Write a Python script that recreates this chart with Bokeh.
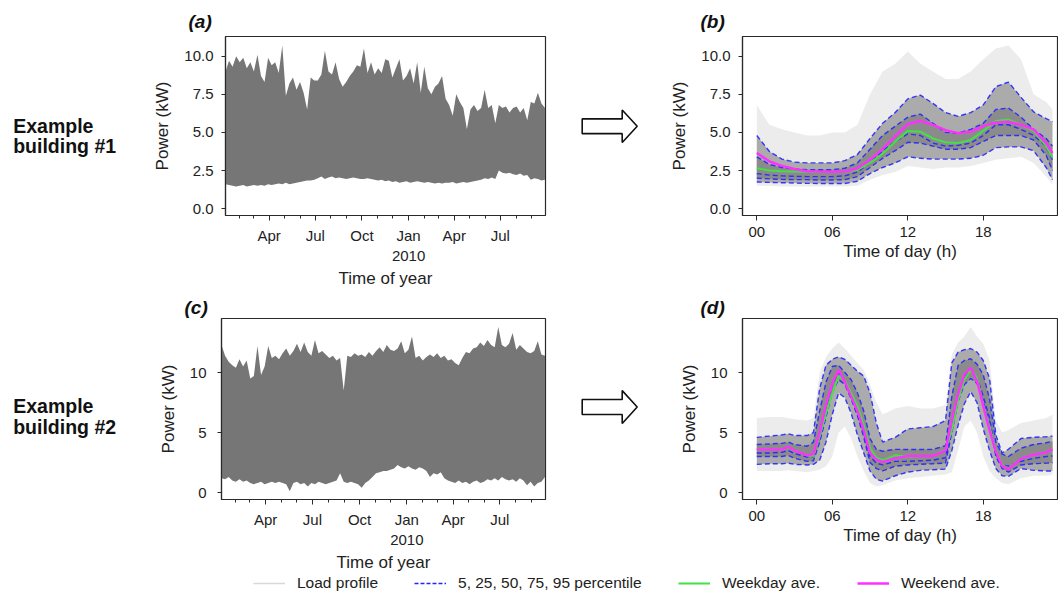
from datetime import datetime
import pandas as pd
from bokeh.plotting import figure
from bokeh.layouts import row, column
from bokeh.models import Range1d, FixedTicker, PrintfTickFormatter, Legend, LegendItem, ColumnDataSource
from bokeh.core.properties import value
from bokeh.embed import file_html
from bokeh.resources import INLINE

FONT = "Liberation Sans"
TXT = "#222222"
AX = "#2a2a2a"

# ---------------- data ----------------
year_start = "2009-01-05"          # first weekly sample of the yearly load envelopes
year_range = ("2009-01-05", "2010-09-28")

# building #1: weekly envelope (kW) of the yearly load profile
b1_upper = [9.0, 9.7, 9.3, 10.0, 9.6, 9.9, 9.2, 9.6, 9.0, 10.1,
            8.7, 8.3, 9.9, 9.4, 9.6, 8.9, 10.7, 7.4, 8.2, 8.6,
            7.8, 8.3, 7.6, 6.5, 8.6, 8.4, 8.4, 8.8, 10.35, 9.0,
            8.8, 9.6, 8.5, 8.0, 8.3, 8.7, 9.0, 9.4, 9.3, 10.5,
            8.9, 9.6, 8.8, 9.2, 8.9, 9.8, 9.7, 8.6, 9.2, 9.8,
            8.4, 8.7, 9.2, 8.2, 9.6, 7.6, 9.3, 7.9, 7.5, 8.0,
            8.2, 8.7, 7.2, 6.8, 6.1, 7.5, 7.0, 6.6, 5.2, 6.5,
            6.8, 6.4, 6.6, 7.8, 6.6, 6.8, 5.6, 6.8, 6.6, 6.7,
            6.3, 6.6, 6.7, 6.3, 6.6, 5.8, 7.0, 6.9, 7.6, 6.9,
            6.6]
b1_lower = [1.6, 1.55, 1.5, 1.45, 1.5, 1.55, 1.45, 1.5, 1.55, 1.5,
            1.55, 1.5, 1.6, 1.55, 1.6, 1.65, 1.6, 1.7, 1.6, 1.65,
            1.7, 1.75, 1.8, 1.85, 1.85, 1.9, 2.0, 2.1, 1.95, 2.05,
            2.1, 2.0, 2.05, 2.0, 1.95, 2.0, 2.05, 2.0, 1.95, 1.95,
            2.0, 1.95, 1.9, 1.85, 1.9, 1.8, 1.85, 1.75, 1.8, 1.7,
            1.75, 1.8, 1.7, 1.75, 1.8, 1.75, 1.7, 1.75, 1.7, 1.65,
            1.7, 1.65, 1.7, 1.7, 1.75, 1.65, 1.7, 1.75, 1.7, 1.75,
            1.8, 1.85, 1.9, 2.0, 1.95, 2.05, 1.95, 2.5, 2.35, 2.3,
            2.35, 2.25, 2.2, 2.3, 2.15, 2.2, 1.9, 2.0, 1.95, 1.85,
            1.9]

# building #2: weekly envelope (kW)
b2_upper = [12.3, 11.4, 10.9, 10.6, 10.4, 11.1, 10.5, 11.0, 9.5, 9.7,
            12.2, 9.8, 10.5, 12.2, 11.2, 11.4, 11.1, 11.6, 12.0, 11.4,
            11.8, 12.4, 11.7, 12.5, 11.7, 11.4, 12.7, 11.6, 11.8, 11.5,
            11.2, 11.4, 11.0, 11.2, 8.5, 11.4, 11.3, 11.6, 11.4, 11.5,
            11.3, 11.7, 11.4, 11.8, 12.1, 11.7, 12.3, 11.9, 11.8, 12.0,
            12.6, 11.6, 11.9, 13.0, 11.2, 11.4, 11.0, 11.3, 11.5, 11.3,
            11.6, 11.2, 11.4, 11.0, 11.1, 10.8, 10.6, 11.2, 11.7, 11.6,
            12.0, 12.1, 12.5, 12.2, 12.7, 12.3, 12.1, 13.8, 12.3, 12.1,
            12.4, 13.3, 11.9, 12.3, 12.0, 11.7, 11.6, 11.8, 12.6, 11.5,
            11.4]
b2_lower = [1.2, 1.1, 1.3, 1.0, 0.9, 1.1, 0.9, 1.0, 0.8, 0.7,
            0.8, 0.9, 0.7, 0.8, 0.9, 0.8, 0.9, 0.8, 0.7, 0.1,
            0.8, 0.9, 0.7, 0.8, 0.5, 0.8, 0.7, 0.9, 0.8, 0.7,
            0.8, 0.9, 1.0, 1.6, 0.9, 0.8, 0.9, 0.8, 0.7, 0.4,
            0.8, 1.0, 1.3, 1.6, 1.7, 1.8, 1.8, 1.9, 2.0, 2.3,
            2.1, 2.0, 2.2, 2.0, 1.9, 2.1, 2.0, 1.8, 1.3, 1.6,
            1.5, 1.7, 1.2, 1.0, 0.9, 0.8, 1.0, 0.8, 0.9, 0.7,
            0.9, 1.0, 0.8, 0.9, 1.1, 1.0, 1.2, 1.0, 1.3, 1.1,
            1.0, 1.1, 0.9, 1.2, 1.0, 0.6, 0.9, 0.5, 0.8, 0.9,
            1.3]

year_tick_dates = ["2009-04-01", "2009-07-01", "2009-10-01", "2010-01-01", "2010-04-01", "2010-07-01"]
year_tick_labels = ["Apr", "Jul", "Oct", "Jan\n2010", "Apr", "Jul"]
month_tick_range = ("2009-02-01", "2010-09-01")

# building #1 daily profiles (kW) by hour of day
hours_b = [0, 1, 2, 3, 4, 5, 6, 7, 8, 9, 10, 11, 12, 13, 14, 15, 16, 17, 18, 19, 20, 21, 22, 23, 23.5]
b_p95 = [4.8, 3.75, 3.25, 3.05, 3.0, 3.0, 3.0, 3.15, 3.55, 4.6, 5.6, 6.3, 7.2, 7.45, 6.9, 6.3, 6.05, 6.3, 6.8, 8.0, 8.3, 7.3, 6.35, 5.9, 5.7]
b_p75 = [3.4, 2.9, 2.7, 2.6, 2.55, 2.55, 2.55, 2.65, 3.0, 3.9, 4.8, 5.4, 6.0, 6.2, 5.6, 5.0, 4.95, 5.2, 5.6, 6.5, 6.6, 6.0, 5.2, 4.6, 4.1]
b_p50 = [2.3, 2.2, 2.15, 2.12, 2.1, 2.1, 2.1, 2.15, 2.4, 3.0, 3.8, 4.4, 4.9, 4.8, 4.3, 4.1, 4.15, 4.3, 4.8, 5.5, 5.5, 5.2, 4.8, 4.1, 3.2]
b_p25 = [2.0, 1.95, 1.92, 1.9, 1.9, 1.88, 1.88, 1.9, 2.1, 2.7, 3.3, 3.8, 4.35, 4.3, 4.1, 3.9, 3.9, 4.0, 4.4, 4.8, 4.8, 4.8, 4.5, 3.5, 2.5]
b_p05 = [1.75, 1.72, 1.7, 1.68, 1.66, 1.65, 1.65, 1.65, 1.8, 2.3, 2.7, 3.0, 3.4, 3.3, 3.25, 3.25, 3.25, 3.3, 3.5, 4.0, 4.05, 4.05, 3.8, 2.7, 1.9]
b_weekday = [2.65, 2.5, 2.45, 2.43, 2.42, 2.4, 2.4, 2.42, 2.55, 3.0, 3.6, 4.4, 5.1, 5.05, 4.6, 4.35, 4.3, 4.5, 5.1, 5.75, 5.85, 5.5, 5.1, 4.1, 3.35]
b_weekend = [3.65, 3.1, 2.8, 2.6, 2.45, 2.43, 2.42, 2.43, 2.65, 3.2, 3.9, 4.75, 5.55, 5.75, 5.5, 5.15, 4.95, 5.05, 5.4, 5.65, 5.7, 5.5, 5.2, 4.3, 3.65]
b_min = [1.5, 1.5, 1.45, 1.45, 1.45, 1.45, 1.45, 1.45, 1.5, 1.9, 2.2, 2.4, 2.8, 2.7, 2.6, 2.7, 2.7, 2.8, 3.0, 3.2, 3.3, 3.4, 3.0, 2.1, 1.6]
b_max = [6.8, 5.5, 5.2, 5.0, 4.8, 4.8, 5.0, 5.0, 5.5, 7.5, 9.0, 9.5, 10.3, 9.5, 9.0, 8.5, 8.5, 9.0, 9.8, 10.5, 10.7, 9.8, 7.5, 7.0, 6.5]

# building #2 daily profiles (kW)
hours_d = [0, 1, 2, 2.5, 3, 4, 4.5, 5, 5.5, 6, 6.5, 7, 7.5, 8, 8.5, 9, 9.5, 10, 11, 12, 13, 14, 15,
           15.5, 16, 16.5, 17, 17.5, 18, 18.5, 19, 19.5, 20, 21, 22, 23, 23.5]
d_p95 = [4.6, 4.7, 4.8, 4.9, 4.75, 4.75, 5.0, 8.7, 10.6, 11.1, 11.3, 11.1, 10.6, 10.1, 9.7, 8.3, 5.8, 4.2, 4.6, 5.3, 5.4, 5.5, 6.0,
         10.8, 11.7, 11.9, 12.0, 11.7, 11.0, 9.5, 4.8, 3.3, 3.6, 4.5, 4.6, 4.65, 4.7]
d_p75 = [4.0, 4.05, 4.1, 4.2, 4.0, 3.86, 4.2, 6.8, 9.2, 10.5, 10.6, 10.0, 9.4, 8.3, 6.8, 4.5, 3.6, 3.44, 3.6, 3.58, 3.58, 3.6, 3.9,
         8.0, 10.6, 11.0, 11.15, 10.7, 9.8, 7.8, 4.2, 3.2, 3.0, 3.7, 4.0, 4.15, 4.27]
d_p50 = [3.3, 3.3, 3.35, 3.5, 3.25, 2.95, 3.0, 4.6, 7.0, 9.0, 10.0, 9.3, 8.1, 6.8, 5.0, 3.0, 2.45, 2.3, 2.6, 2.6, 2.65, 2.7, 2.9,
         5.6, 8.3, 9.6, 10.2, 9.6, 8.0, 6.2, 3.2, 2.3, 2.2, 2.6, 2.85, 3.0, 3.05]
d_p25 = [3.0, 3.0, 3.0, 3.1, 2.85, 2.6, 2.65, 4.2, 6.3, 8.4, 9.4, 9.0, 7.8, 6.4, 4.6, 2.5, 2.0, 1.8, 2.2, 2.3, 2.35, 2.4, 2.45,
         5.0, 7.6, 9.0, 9.5, 9.1, 7.6, 5.8, 3.0, 2.0, 1.7, 2.3, 2.4, 2.45, 2.48]
d_p05 = [2.35, 2.4, 2.4, 2.45, 2.35, 2.3, 2.35, 2.7, 4.2, 6.5, 8.3, 7.9, 6.6, 4.8, 3.3, 1.8, 1.1, 0.96, 1.4, 1.7, 1.85, 1.9, 1.95,
         3.5, 5.6, 7.4, 8.4, 7.5, 5.3, 3.5, 2.0, 1.4, 1.35, 2.0, 1.85, 1.8, 1.8]
d_weekday = [3.6, 3.58, 3.6, 3.75, 3.5, 3.1, 3.05, 4.7, 6.6, 8.3, 9.7, 9.3, 8.3, 7.2, 5.6, 3.7, 2.9, 2.7, 3.1, 3.0, 3.05, 3.05, 3.55,
             5.2, 7.7, 9.4, 10.2, 9.6, 7.3, 5.5, 3.5, 2.3, 2.0, 2.8, 3.15, 3.35, 3.55]
d_weekend = [3.6, 3.58, 3.6, 3.8, 3.5, 3.1, 3.2, 5.0, 7.3, 9.1, 10.2, 9.2, 8.0, 6.8, 5.2, 3.3, 2.75, 2.55, 2.85, 3.05, 3.05, 3.05, 3.5,
             6.0, 8.2, 9.8, 10.4, 9.3, 7.2, 5.2, 3.4, 2.2, 1.95, 2.8, 3.15, 3.35, 3.6]
d_min = [1.8, 1.8, 1.8, 1.85, 1.8, 1.7, 1.8, 1.9, 2.2, 3.0, 5.0, 5.5, 4.5, 3.0, 1.8, 0.8, 0.5, 0.6, 1.0, 1.2, 1.3, 1.4, 1.5,
         1.7, 3.5, 5.5, 6.0, 5.0, 3.0, 1.8, 1.2, 0.8, 0.7, 1.2, 1.4, 1.4, 1.5]
d_max = [6.2, 6.3, 6.3, 6.2, 6.1, 6.0, 6.2, 10.0, 11.3, 12.0, 12.5, 12.0, 11.4, 10.8, 10.2, 9.0, 7.5, 6.5, 7.0, 7.2, 7.0, 7.0, 7.3,
         11.5, 12.5, 13.0, 13.8, 13.0, 12.4, 11.0, 6.0, 5.0, 5.2, 5.8, 6.0, 6.2, 6.5]

day_ticks = [0, 6, 12, 18]
day_tick_labels = ["00", "06", "12", "18"]

panel_titles = ["(a)", "(b)", "(c)", "(d)"]
building_labels = [["Example", "building #1"], ["Example", "building #2"]]
legend_labels = ["Load profile", "5, 25, 50, 75, 95 percentile", "Weekday ave.", "Weekend ave."]

# colours
C_BAND = "#767676"
C_ENV = "#ececec"
C_OUTER = "#ababab"
C_INNER = "#8b8b8b"
C_PCT = "#2424ff"
C_WD = "#45e045"
C_WE = "#ff30ff"
C_LOAD = "#d8d8d8"


def ms(d):
    return float(pd.Timestamp(d).value // 10**6)


weeks = pd.date_range(year_start, periods=len(b1_upper), freq="7D")
year_ticks_ms = [ms(d) for d in year_tick_dates]
month_ms = [ms(d) for d in pd.date_range(month_tick_range[0], month_tick_range[1], freq="MS")]

# ---------------- layout sizes (page has no margin) ----------------
W_LAB, W_A, W_ARR, W_B = 150, 410, 105, 393
FRAME_H = 182
MBT1, MBB1 = 36, 72
MBT2, MBB2 = 28, 74
H1 = MBT1 + FRAME_H + MBB1      # 290
H2 = MBT2 + FRAME_H + MBB2      # 284
HL = 18


def base_fig(width, height, xr, yr, mbl, mbr, mbt, mbb, title, toff, tstand, xtype="linear"):
    p = figure(width=width, height=height, x_range=xr, y_range=yr, x_axis_type=xtype,
               title=title, toolbar_location=None, output_backend="svg",
               min_border_left=mbl, min_border_right=mbr, min_border_top=mbt, min_border_bottom=mbb)
    p.title.align = "left"
    p.title.offset = toff
    p.title.standoff = tstand
    p.title.text_font = FONT
    p.title.text_font_size = "19px"
    p.title.text_font_style = "bold italic"
    p.title.text_color = "#111111"
    p.xgrid.visible = False
    p.ygrid.visible = False
    p.outline_line_color = AX
    p.outline_line_width = 1.2
    p.outline_line_alpha = 1.0
    p.background_fill_color = "white"
    p.border_fill_color = "white"
    for ax in p.axis:
        ax.axis_line_color = AX
        ax.axis_line_width = 1.2
        ax.major_tick_line_color = AX
        ax.minor_tick_line_color = AX
        ax.major_tick_in = 0
        ax.minor_tick_in = 0
        ax.major_label_text_font = FONT
        ax.major_label_text_font_size = "15px"
        ax.major_label_text_color = TXT
        ax.axis_label_text_font = FONT
        ax.axis_label_text_font_size = "17px"
        ax.axis_label_text_font_style = "normal"
        ax.axis_label_text_color = TXT
    p.xaxis.major_tick_out = 5
    p.xaxis.minor_tick_out = 3
    p.xaxis.major_label_standoff = 6
    p.xaxis.axis_label_standoff = 2
    p.yaxis.major_tick_out = 4
    p.yaxis.minor_tick_out = 0
    p.yaxis.axis_label = "Power (kW)"
    return p


def year_fig(upper, lower, yr, yticks, yfmt, ystand, height, mbt, mbb, tstand, title):
    xr = Range1d(start=ms(year_range[0]), end=ms(year_range[1]))
    p = base_fig(W_A, height, xr, yr, 71, 15, mbt, mbb, title, -37, tstand, xtype="datetime")
    src = ColumnDataSource(dict(x=weeks, lo=lower, hi=upper))
    p.varea(x="x", y1="lo", y2="hi", source=src, fill_color=C_BAND, fill_alpha=1.0)
    p.xaxis.ticker = FixedTicker(ticks=year_ticks_ms, minor_ticks=month_ms)
    p.xaxis.major_label_overrides = {t: l for t, l in zip(year_ticks_ms, year_tick_labels)}
    p.xaxis.axis_label = "Time of year"
    p.yaxis.ticker = FixedTicker(ticks=yticks, minor_ticks=[])
    p.yaxis.formatter = PrintfTickFormatter(format=yfmt)
    p.yaxis.major_label_standoff = ystand
    p.yaxis.axis_label_standoff = 9
    return p


def day_fig(hours, mn, mx, p05, p25, p50, p75, p95, wd, we, yr, yticks, yfmt, ystand, height, mbt, mbb, tstand, title):
    xr = Range1d(start=-1.137, end=23.9)
    p = base_fig(W_B, height, xr, yr, 77, 1, mbt, mbb, title, -42, tstand)
    src = ColumnDataSource(dict(h=hours, mn=mn, mx=mx, p05=p05, p25=p25, p50=p50, p75=p75, p95=p95, wd=wd, we=we))
    p.varea(x="h", y1="mn", y2="mx", source=src, fill_color=C_ENV)
    p.varea(x="h", y1="p05", y2="p95", source=src, fill_color=C_OUTER)
    p.varea(x="h", y1="p25", y2="p75", source=src, fill_color=C_INNER)
    for col in ["p05", "p25", "p50", "p75", "p95"]:
        p.line(x="h", y=col, source=src, line_color=C_PCT, line_dash="5 3", line_width=1.4, line_alpha=0.9)
    p.line(x="h", y="wd", source=src, line_color=C_WD, line_width=2.0)
    p.line(x="h", y="we", source=src, line_color=C_WE, line_width=2.4)
    p.xaxis.ticker = FixedTicker(ticks=day_ticks, minor_ticks=[])
    p.xaxis.major_label_overrides = {t: l for t, l in zip(day_ticks, day_tick_labels)}
    p.xaxis.axis_label = "Time of day (h)"
    p.yaxis.ticker = FixedTicker(ticks=yticks, minor_ticks=[])
    p.yaxis.formatter = PrintfTickFormatter(format=yfmt)
    p.yaxis.major_label_standoff = ystand
    p.yaxis.axis_label_standoff = 9
    return p


def blank_fig(width, height, mbt):
    # frames of plots in one row are aligned, so this frame spans rows mbt .. mbt+FRAME_H;
    # data units equal pixels measured from the top of the row
    p = figure(width=width, height=height, x_range=Range1d(0, width),
               y_range=Range1d(mbt + FRAME_H, mbt),
               x_axis_location=None, y_axis_location=None, toolbar_location=None,
               output_backend="svg", min_border=0)
    p.outline_line_color = None
    p.grid.visible = False
    p.background_fill_color = "white"
    p.border_fill_color = "white"
    return p


def label_fig(lines, height, mbt, base_y):
    p = blank_fig(W_LAB, height, mbt)
    p.text(x=[12.7, 12.7], y=[base_y, base_y + 21], text=lines, text_font=value(FONT),
           text_font_size="19.5px", text_font_style="bold", text_color="#111111",
           text_align="left", text_baseline="alphabetic")
    return p


ARROW_DX = [21.7, 61.7, 61.7, 76.7, 61.7, 61.7, 21.7]
ARROW_DY = [-7.5, -7.5, -16.5, 0, 16.5, 7.5, 7.5]


def arrow_fig(height, mbt, cy):
    p = blank_fig(W_ARR, height, mbt)
    p.patch(x=ARROW_DX, y=[cy + d for d in ARROW_DY], fill_color="white", line_color="#111111", line_width=1.6)
    return p


fa = year_fig(b1_upper, b1_lower, Range1d(-0.45, 11.29), [0, 2.5, 5, 7.5, 10], "%.1f", 8,
              H1, MBT1, MBB1, 9, panel_titles[0])
fc = year_fig(b2_upper, b2_lower, Range1d(-0.58, 14.5), [0, 5, 10], "%d", 11,
              H2, MBT2, MBB2, 2, panel_titles[2])
fb = day_fig(hours_b, b_min, b_max, b_p05, b_p25, b_p50, b_p75, b_p95, b_weekday, b_weekend,
             Range1d(-0.45, 11.29), [0, 2.5, 5, 7.5, 10], "%.1f", 8, H1, MBT1, MBB1, 9, panel_titles[1])
fd = day_fig(hours_d, d_min, d_max, d_p05, d_p25, d_p50, d_p75, d_p95, d_weekday, d_weekend,
             Range1d(-0.58, 14.5), [0, 5, 10], "%d", 11, H2, MBT2, MBB2, 2, panel_titles[3])

# legend strip
W_ALL = W_LAB + W_A + W_ARR + W_B
leg = figure(width=W_ALL, height=HL, x_range=Range1d(0, 1), y_range=Range1d(0, 1),
             x_axis_location=None, y_axis_location=None, toolbar_location=None,
             output_backend="svg", min_border=0)
leg.outline_line_color = None
leg.grid.visible = False
# legend-only renderers: their single sample lies outside the visible range
dummy = ColumnDataSource(dict(x=[0.0, 0.5], y=[-5.0, -5.0]))
r_load = leg.line(x="x", y="y", source=dummy, line_color=C_LOAD, line_width=1.5)
r_pct = leg.line(x="x", y="y", source=dummy, line_color=C_PCT, line_dash="4 2", line_width=1.4)
r_wd = leg.line(x="x", y="y", source=dummy, line_color=C_WD, line_width=2.0)
r_we = leg.line(x="x", y="y", source=dummy, line_color=C_WE, line_width=2.4)


def make_legend(items, loc, spacing):
    return Legend(items=items, location=loc, orientation="horizontal", spacing=spacing,
                  glyph_width=32, glyph_height=HL, label_height=HL, label_standoff=12,
                  padding=0, margin=0, border_line_alpha=0, background_fill_alpha=0,
                  label_text_font=FONT, label_text_font_size="15.5px", label_text_color=TXT)


leg.add_layout(make_legend([LegendItem(label=legend_labels[0], renderers=[r_load]),
                            LegendItem(label=legend_labels[1], renderers=[r_pct])], (253, 0), 36))
leg.add_layout(make_legend([LegendItem(label=legend_labels[2], renderers=[r_wd]),
                            LegendItem(label=legend_labels[3], renderers=[r_we])], (678, 0), 37))

layout = column(
    row(label_fig(building_labels[0], H1, MBT1, 126.7), fa, arrow_fig(H1, MBT1, 127.3), fb),
    row(label_fig(building_labels[1], H2, MBT2, 115.7), fc, arrow_fig(H2, MBT2, 117.0), fd),
    leg,
)

open("out.html", "w").write(file_html(layout, INLINE))
